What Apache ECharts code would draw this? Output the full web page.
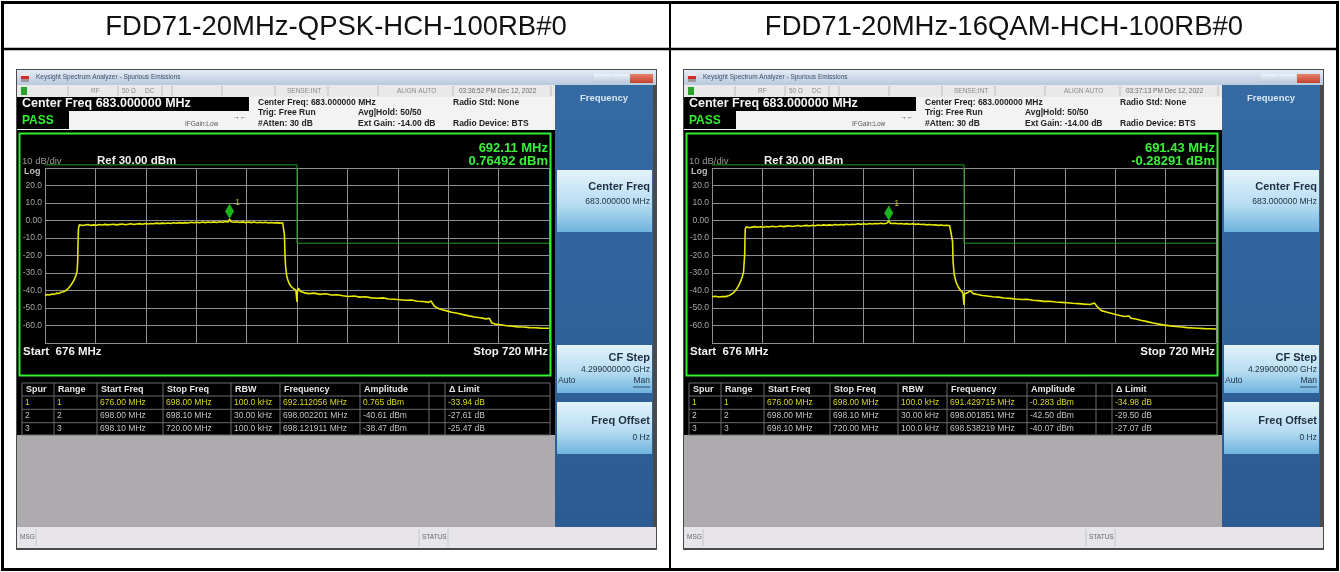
<!DOCTYPE html>
<html>
<head>
<meta charset="utf-8">
<title>Spurious Emissions</title>
<script src="https://cdn.jsdelivr.net/npm/echarts@6/dist/echarts.min.js"></script>
<style>
    html, body { margin: 0; padding: 0; background: #fff; }
    #chart { width: 1340px; height: 572px; }
</style>
</head>
<body>
<div id="chart"></div>
<script>
// 表头
const panelTitles = ['FDD71-20MHz-QPSK-HCH-100RB#0', 'FDD71-20MHz-16QAM-HCH-100RB#0'];
const panelTimes = ['03:36:52 PM Dec 12, 2022', '03:37:13 PM Dec 12, 2022'];

// 频率轴 / 幅度轴
const freqStart = 676, freqStop = 720, freqDiv = 4.4;
const refLevel = 30, bottomLevel = -70, dbPerDiv = 10;

// marker readout
const markerFreqText = ['692.11 MHz', '691.43 MHz'];
const markerAmpText = ['0.76492 dBm', '-0.28291 dBm'];
const markerPoints = [[692.112056, 0.765], [691.429715, -0.283]];

// limit line (dBm), range 1 is above ref so it sits on the top edge
const limitQpsk = [[676, 34.7], [698, 34.7], [698, -13], [720, -13]];
const limit16qam = [[676, 34.7], [698, 34.7], [698, -13], [720, -13]];

// spur table
const tableHeader = ['Spur', 'Range', 'Start Freq', 'Stop Freq', 'RBW', 'Frequency', 'Amplitude', '', '\u0394 Limit'];
const spurRowsQpsk = [
    ['1', '1', '676.00 MHz', '698.00 MHz', '100.0 kHz', '692.112056 MHz', '0.765 dBm', '', '-33.94 dB'],
    ['2', '2', '698.00 MHz', '698.10 MHz', '30.00 kHz', '698.002201 MHz', '-40.61 dBm', '', '-27.61 dB'],
    ['3', '3', '698.10 MHz', '720.00 MHz', '100.0 kHz', '698.121911 MHz', '-38.47 dBm', '', '-25.47 dB'],
];
const spurRows16qam = [
    ['1', '1', '676.00 MHz', '698.00 MHz', '100.0 kHz', '691.429715 MHz', '-0.283 dBm', '', '-34.98 dB'],
    ['2', '2', '698.00 MHz', '698.10 MHz', '30.00 kHz', '698.001851 MHz', '-42.50 dBm', '', '-29.50 dB'],
    ['3', '3', '698.10 MHz', '720.00 MHz', '100.0 kHz', '698.538219 MHz', '-40.07 dBm', '', '-27.07 dB'],
];

// trace QPSK (MHz, dBm) 从图上读的
const traceQpsk = [
    [676.0, -42.8], [676.2, -42.3], [676.4, -42.6], [676.6, -42.0], [676.8, -42.2], [677.0, -41.5],
    [677.2, -41.7], [677.4, -41.0], [677.6, -40.7], [677.8, -40.2], [677.95, -39.2], [678.1, -38.3],
    [678.25, -37.0], [678.4, -35.6], [678.55, -33.8], [678.7, -31.5], [678.8, -29.0], [678.85, -24.0],
    [678.88, -14.0], [678.92, -4.5],
    [679.0, -2.4], [679.25, -2.9], [679.5, -2.6], [679.75, -2.3], [680.0, -2.8], [680.25, -2.5],
    [680.5, -2.7], [680.75, -2.3], [681.0, -2.6], [681.25, -2.2], [681.5, -2.5], [681.75, -2.3],
    [682.0, -2.1], [682.25, -2.5], [682.5, -2.2], [682.75, -2.0], [683.0, -2.4], [683.25, -2.1],
    [683.5, -1.9], [683.75, -2.3], [684.0, -2.0], [684.25, -1.8], [684.5, -2.1], [684.75, -1.7],
    [685.0, -2.0], [685.25, -1.7], [685.5, -1.9], [685.75, -1.5], [686.0, -1.8], [686.25, -1.5],
    [686.5, -1.7], [686.75, -1.4], [687.0, -1.7], [687.25, -1.3], [687.5, -1.6], [687.75, -1.2],
    [688.0, -1.5], [688.25, -1.2], [688.5, -1.4], [688.75, -1.0], [689.0, -1.3], [689.25, -1.0],
    [689.5, -1.3], [689.75, -0.9], [690.0, -1.2], [690.25, -0.9], [690.5, -1.1], [690.75, -0.8],
    [691.0, -1.1], [691.25, -0.7], [691.5, -1.0], [691.75, -0.6], [692.0, -0.9], [692.112, 0.765],
    [692.25, -0.7], [692.5, -1.0], [692.75, -0.7], [693.0, -1.1], [693.25, -0.8], [693.5, -1.2],
    [693.75, -0.9], [694.0, -1.2], [694.25, -0.9], [694.5, -1.3], [694.75, -1.0], [695.0, -1.3],
    [695.25, -1.0], [695.5, -1.4], [695.75, -1.1], [696.0, -1.4], [696.25, -1.2], [696.5, -1.5],
    [696.75, -1.3], [696.85, -2.2],
    [696.9, -8.0], [696.95, -19.0], [697.0, -26.0], [697.1, -31.5], [697.2, -34.0], [697.35, -36.4],
    [697.5, -37.8], [697.7, -39.0], [697.9, -39.8], [697.98, -40.3], [698.0, -46.5], [698.03, -40.8],
    [698.12, -38.6], [698.3, -40.6], [698.6, -41.2], [699.0, -41.8], [699.5, -41.5], [700.0, -42.2],
    [700.5, -41.9], [701.0, -42.6], [701.5, -42.4], [702.0, -43.0], [702.5, -43.4], [703.0, -43.1],
    [703.5, -43.8], [704.0, -43.6], [704.5, -44.2], [705.0, -44.4], [705.5, -44.2], [706.0, -44.9],
    [706.5, -45.0], [707.0, -45.3], [707.5, -45.6], [708.0, -45.4], [708.5, -46.1], [709.0, -46.3],
    [709.5, -46.8], [709.7, -45.9], [709.85, -47.6], [710.0, -49.0], [710.3, -50.2], [710.6, -50.9],
    [711.0, -51.5], [711.5, -52.4], [712.0, -53.0], [712.5, -53.8], [713.0, -54.5], [713.5, -55.1],
    [714.0, -55.6], [714.5, -56.2], [714.8, -55.9], [715.0, -58.5], [715.3, -59.2], [715.8, -59.6],
    [716.3, -60.1], [716.8, -60.4], [717.3, -60.8], [717.8, -60.9], [718.3, -61.2], [718.8, -61.3],
    [719.3, -61.5], [720.0, -61.6],
];

// trace 16QAM
const trace16qam = [
    [676.0, -43.6], [676.3, -43.3], [676.6, -43.7], [676.9, -43.4], [677.2, -43.5], [677.5, -42.8],
    [677.7, -42.1], [677.9, -41.2], [678.1, -39.6], [678.3, -37.5], [678.5, -34.8], [678.65, -32.0],
    [678.75, -29.5], [678.85, -20.0], [678.9, -5.0],
    [679.0, -3.6], [679.25, -4.1], [679.5, -3.8], [679.75, -3.5], [680.0, -3.9], [680.25, -3.6],
    [680.5, -3.9], [680.75, -3.4], [681.0, -3.7], [681.25, -3.3], [681.5, -3.6], [681.75, -3.4],
    [682.0, -3.1], [682.25, -3.5], [682.5, -3.2], [682.75, -3.0], [683.0, -3.4], [683.25, -3.1],
    [683.5, -2.9], [683.75, -3.3], [684.0, -3.0], [684.25, -2.8], [684.5, -3.1], [684.75, -2.7],
    [685.0, -3.0], [685.25, -2.6], [685.5, -2.9], [685.75, -2.5], [686.0, -2.8], [686.25, -2.5],
    [686.5, -2.7], [686.75, -2.3], [687.0, -2.6], [687.25, -2.3], [687.5, -2.5], [687.75, -2.1],
    [688.0, -2.4], [688.25, -2.1], [688.5, -2.3], [688.75, -1.9], [689.0, -2.2], [689.25, -1.9],
    [689.5, -2.1], [689.75, -1.7], [690.0, -2.0], [690.25, -1.7], [690.5, -1.9], [690.75, -1.6],
    [691.0, -1.9], [691.25, -1.6], [691.43, -0.283], [691.6, -1.7], [691.75, -1.9], [692.0, -1.6],
    [692.25, -1.9], [692.5, -1.7], [692.75, -2.0], [693.0, -1.8], [693.25, -2.1], [693.5, -1.9],
    [693.75, -2.2], [694.0, -2.0], [694.25, -2.3], [694.5, -2.1], [694.75, -2.5], [695.0, -2.3],
    [695.25, -2.6], [695.5, -2.4], [695.75, -2.8], [696.0, -2.6], [696.25, -2.9], [696.5, -2.7],
    [696.75, -3.0], [696.9, -3.3],
    [697.0, -12.0], [697.05, -24.0], [697.15, -31.0], [697.3, -35.0], [697.5, -38.0], [697.7, -40.0],
    [697.9, -41.2], [697.98, -41.5], [698.0, -48.3], [698.04, -42.0], [698.1, -41.6], [698.3, -41.3],
    [698.54, -40.1], [698.8, -41.8], [699.2, -42.3], [699.6, -42.9], [700.0, -43.1], [700.5, -43.6],
    [701.0, -43.8], [701.5, -44.3], [702.0, -44.5], [702.5, -44.9], [703.0, -45.1], [703.5, -45.0],
    [704.0, -45.6], [704.5, -45.8], [705.0, -46.2], [705.5, -46.1], [706.0, -46.6], [706.5, -46.8],
    [707.0, -47.0], [707.5, -47.3], [708.0, -47.5], [708.5, -47.8], [709.0, -48.0], [709.4, -47.2],
    [709.6, -49.0], [710.0, -51.5], [710.5, -52.4], [711.0, -53.3], [711.5, -54.1], [712.0, -54.9],
    [712.4, -54.6], [712.6, -55.9], [713.0, -56.3], [713.5, -57.1], [714.0, -57.8], [714.5, -58.6],
    [715.0, -59.2], [715.5, -59.8], [716.0, -60.2], [716.5, -60.6], [717.0, -60.9], [717.5, -61.2],
    [718.0, -61.4], [718.5, -61.6], [719.0, -61.8], [719.5, -61.9], [720.0, -62.0],
];

const FONT = '"Liberation Sans", Arial, sans-serif';
const tableCols = [22, 54, 97, 163, 231, 280, 360, 429, 445, 550];
const rowTops = [383, 396, 409.3, 422.7, 435];

function R(x, y, w, h, fill, z) {
    return { type: 'rect', z: z === undefined ? -3 : z, shape: { x: x, y: y, width: w, height: h }, style: { fill: fill } };
}
function T(x, y, text, size, fill, bold, align) {
    return {
        type: 'text', z: -1, x: x, y: y,
        style: {
            text: text, fill: fill, fontSize: size, fontFamily: FONT,
            fontWeight: bold ? 'bold' : 'normal', align: align || 'left', verticalAlign: 'middle'
        }
    };
}
function L(x1, y1, x2, y2, stroke, lw) {
    return { type: 'line', z: -1, shape: { x1: x1, y1: y1, x2: x2, y2: y2 }, style: { stroke: stroke, lineWidth: lw || 1 } };
}
function grad(c1, c2, c3) {
    const stops = c3
        ? [{ offset: 0, color: c1 }, { offset: 0.55, color: c2 }, { offset: 1, color: c3 }]
        : [{ offset: 0, color: c1 }, { offset: 1, color: c2 }];
    return { type: 'linear', x: 0, y: 0, x2: 0, y2: 1, colorStops: stops };
}

// 一个频谱仪截图的外框、文字、表格
function panelGraphics(ox, idx, rows) {
    const g = [];
    const X = x => x + ox;
    // window
    g.push(R(X(16), 69, 641, 481, '#4a4a4a', -4));
    g.push(R(X(17), 70, 639, 15, grad('#e4ebf4', '#b9c9de'), -3));
    g.push(R(X(21), 73, 8, 3, '#e8e8e8', -2));
    g.push(R(X(21), 76, 8, 3, '#d42a2a', -2));
    g.push(R(X(21), 79, 8, 3, '#9a9a9a', -2));
    g.push(T(X(36), 77.5, 'Keysight Spectrum Analyzer - Spurious Emissions', 6.5, '#3d4d6a'));
    g.push(R(X(594), 74, 17, 9, grad('#eef3f9', '#b8c8dc'), -2));
    g.push(R(X(612), 74, 17, 9, grad('#eef3f9', '#b8c8dc'), -2));
    g.push(R(X(630), 74, 23, 9, grad('#e8836e', '#c2412c'), -2));
    // status row
    g.push(R(X(17), 85, 538, 12, '#e9e9e9', -3));
    g.push(R(X(21), 87, 6, 8, '#2aa12a', -2));
    [68, 118, 162, 172, 222, 275, 328, 378, 453, 551].forEach(x => g.push(L(X(x), 86, X(x), 96, '#bdbdbd', 1)));
    g.push(T(X(91), 91, 'RF', 6.5, '#8a8a8a'));
    g.push(T(X(122), 91, '50 \u03a9', 6.5, '#8a8a8a'));
    g.push(T(X(145), 91, 'DC', 6.5, '#8a8a8a'));
    g.push(T(X(287), 91, 'SENSE:INT', 6.5, '#8a8a8a'));
    g.push(T(X(397), 91, 'ALIGN AUTO', 6.5, '#8a8a8a'));
    g.push(T(X(459), 91, panelTimes[idx], 6.5, '#6a6a6a'));
    // softkey panel
    g.push(R(X(555), 85, 98, 442, grad('#356aa3', '#2b5b92'), -3));
    g.push(T(X(604), 98.5, 'Frequency', 9.5, '#d8e6f4', true, 'center'));
    g.push(R(X(557), 170, 95, 62, grad('#e3f2fb', '#b7ddf2', '#6fb3de'), -2));
    g.push(T(X(650), 187, 'Center Freq', 11, '#1e2e44', true, 'right'));
    g.push(T(X(650), 202, '683.000000 MHz', 8.5, '#1e2e44', false, 'right'));
    g.push(R(X(557), 345, 95, 48, grad('#e3f2fb', '#b7ddf2', '#6fb3de'), -2));
    g.push(T(X(650), 358, 'CF Step', 11, '#1e2e44', true, 'right'));
    g.push(T(X(650), 370, '4.299000000 GHz', 8.5, '#1e2e44', false, 'right'));
    g.push(T(X(558), 381, 'Auto', 8.5, '#1e2e44'));
    g.push(T(X(650), 381, 'Man', 8.5, '#1e2e44', false, 'right'));
    g.push(L(X(633), 387, X(650), 387, '#1e2e44', 0.8));
    g.push(R(X(557), 402, 95, 52, grad('#e3f2fb', '#b7ddf2', '#6fb3de'), -2));
    g.push(T(X(650), 421, 'Freq Offset', 11, '#1e2e44', true, 'right'));
    g.push(T(X(650), 438, '0 Hz', 8.5, '#1e2e44', false, 'right'));
    // top info blocks
    g.push(R(X(17), 97, 538, 33, '#f3f3f3', -3));
    g.push(R(X(17), 97, 232, 14, '#000', -2));
    g.push(T(X(22), 104, 'Center Freq 683.000000 MHz', 12.5, '#f4f4f4', true));
    g.push(R(X(17), 111, 52, 18, '#000', -2));
    g.push(T(X(22), 120.5, 'PASS', 12, '#2ef02e', true));
    g.push(T(X(185), 124, 'IFGain:Low', 6.5, '#555'));
    g.push(T(X(233), 117, '\u2192\u2190', 7, '#333'));
    g.push(T(X(258), 102.5, 'Center Freq: 683.000000 MHz', 8.5, '#222', true));
    g.push(T(X(258), 113, 'Trig: Free Run', 8.5, '#222', true));
    g.push(T(X(258), 123.5, '#Atten: 30 dB', 8.5, '#222', true));
    g.push(T(X(358), 113, 'Avg|Hold: 50/50', 8.5, '#222', true));
    g.push(T(X(358), 123.5, 'Ext Gain: -14.00 dB', 8.5, '#222', true));
    g.push(T(X(453), 102.5, 'Radio Std: None', 8.5, '#222', true));
    g.push(T(X(453), 123.5, 'Radio Device: BTS', 8.5, '#222', true));
    // plot + table black area
    g.push(R(X(17), 130, 538, 305, '#000', -3));
    g.push({ type: 'rect', z: -1, shape: { x: X(19.5), y: 133.5, width: 531, height: 242 }, style: { fill: null, stroke: '#33ee33', lineWidth: 2 } });
    g.push(T(X(548), 148, markerFreqText[idx], 13, '#3cf03c', true, 'right'));
    g.push(T(X(548), 161, markerAmpText[idx], 13, '#3cf03c', true, 'right'));
    g.push(T(X(22), 161, '10 dB/div', 9.5, '#9a9a9a'));
    g.push(T(X(97), 161, 'Ref 30.00 dBm', 11.5, '#f0f0f0', true));
    g.push(T(X(24), 172, 'Log', 9, '#bdbdbd', true));
    g.push(T(X(23), 352, 'Start  676 MHz', 11.5, '#f0f0f0', true));
    g.push(T(X(548), 352, 'Stop 720 MHz', 11.5, '#f0f0f0', true, 'right'));
    // spur table
    rowTops.forEach(y => g.push(L(X(22), y, X(550), y, '#6a6a6a', 1)));
    tableCols.forEach(x => g.push(L(X(x), 383, X(x), 435, '#6a6a6a', 1)));
    tableHeader.forEach((h, c) => g.push(T(X(tableCols[c] + 4), 389.5, h, 9, '#e6e6e6', true)));
    rows.forEach((row, r) => {
        const yc = (rowTops[r + 1] + rowTops[r + 2]) / 2;
        row.forEach((cell, c) => g.push(T(X(tableCols[c] + 3), yc, cell, 8.5, r === 0 ? '#d8d81e' : '#c4c4c4')));
    });
    // lower gray + message bar
    g.push(R(X(17), 435, 538, 92, '#aeabaf', -3));
    g.push(R(X(17), 527, 639, 21, '#e7e5e9', -3));
    g.push(T(X(20), 537.5, 'MSG', 6.5, '#666'));
    g.push(L(X(36), 529, X(36), 546, '#c4c4c4', 1));
    g.push(L(X(419), 529, X(419), 546, '#c4c4c4', 1));
    g.push(T(X(422), 537.5, 'STATUS', 6.5, '#666'));
    g.push(L(X(448), 529, X(448), 546, '#c4c4c4', 1));
    return g;
}

const elements = [];
// outer table
elements.push({ type: 'rect', z: -1, shape: { x: 2.5, y: 2.5, width: 1335, height: 567 }, style: { fill: null, stroke: '#000', lineWidth: 3 } });
elements.push(L(2, 49, 1338, 49, '#000', 2.5));
elements.push(L(670, 2, 670, 570, '#000', 2));
elements.push(T(336, 27, panelTitles[0], 27.5, '#111', false, 'center'));
elements.push(T(1004, 27, panelTitles[1], 27.5, '#111', false, 'center'));
elements.push(...panelGraphics(0, 0, spurRowsQpsk));
elements.push(...panelGraphics(667, 1, spurRows16qam));

const traces = [traceQpsk, trace16qam];
const limits = [limitQpsk, limit16qam];
// 超出参考电平的限值画在顶边上
const clampTop = refLevel + 1.8;

const gridLeft = [45, 712];
const splitColor = '#8e8e8e';

const option = {
    animation: false,
    backgroundColor: '#fff',
    graphic: { elements: elements },
    grid: gridLeft.map(l => ({ left: l, top: 168, width: 504, height: 175, show: false })),
    xAxis: [0, 1].map(i => ({
        gridIndex: i, type: 'value', min: freqStart, max: freqStop, interval: freqDiv,
        axisLine: { show: false }, axisTick: { show: false }, axisLabel: { show: false },
        splitLine: { show: true, lineStyle: { color: splitColor, width: 1 } }
    })),
    yAxis: [0, 1].map(i => ({
        gridIndex: i, type: 'value', min: bottomLevel, max: refLevel, interval: dbPerDiv,
        axisLine: { show: false }, axisTick: { show: false },
        axisLabel: {
            margin: 3, fontSize: 8.5, color: '#a6a6a6', fontFamily: FONT,
            formatter: v => (v === refLevel || v === bottomLevel) ? '' : (v === 0 ? '0.00' : v.toFixed(1))
        },
        splitLine: { show: true, lineStyle: { color: splitColor, width: 1 } }
    })),
    series: []
};

[0, 1].forEach(i => {
    option.series.push({
        type: 'line', xAxisIndex: i, yAxisIndex: i, clip: false, showSymbol: false, silent: true,
        data: limits[i].map(p => [p[0], Math.min(p[1], clampTop)]),
        lineStyle: { color: '#1f9c1f', width: 1 }, z: 3
    });
    option.series.push({
        type: 'line', xAxisIndex: i, yAxisIndex: i, showSymbol: false, silent: true,
        data: traces[i], lineStyle: { color: '#e8e800', width: 1.6 }, z: 4
    });
    option.series.push({
        type: 'scatter', xAxisIndex: i, yAxisIndex: i, silent: true,
        data: [markerPoints[i]], symbol: 'diamond', symbolSize: [9, 15], symbolOffset: [0, -8],
        itemStyle: { color: '#22e022' },
        label: { show: true, formatter: '1', position: [10, -6], color: '#e0e040', fontSize: 9, fontFamily: FONT },
        z: 5
    });
});

const chart = echarts.init(document.getElementById('chart'));
chart.setOption(option);
window.addEventListener('resize', () => {
    chart.resize();
});
</script>
</body>
</html>
